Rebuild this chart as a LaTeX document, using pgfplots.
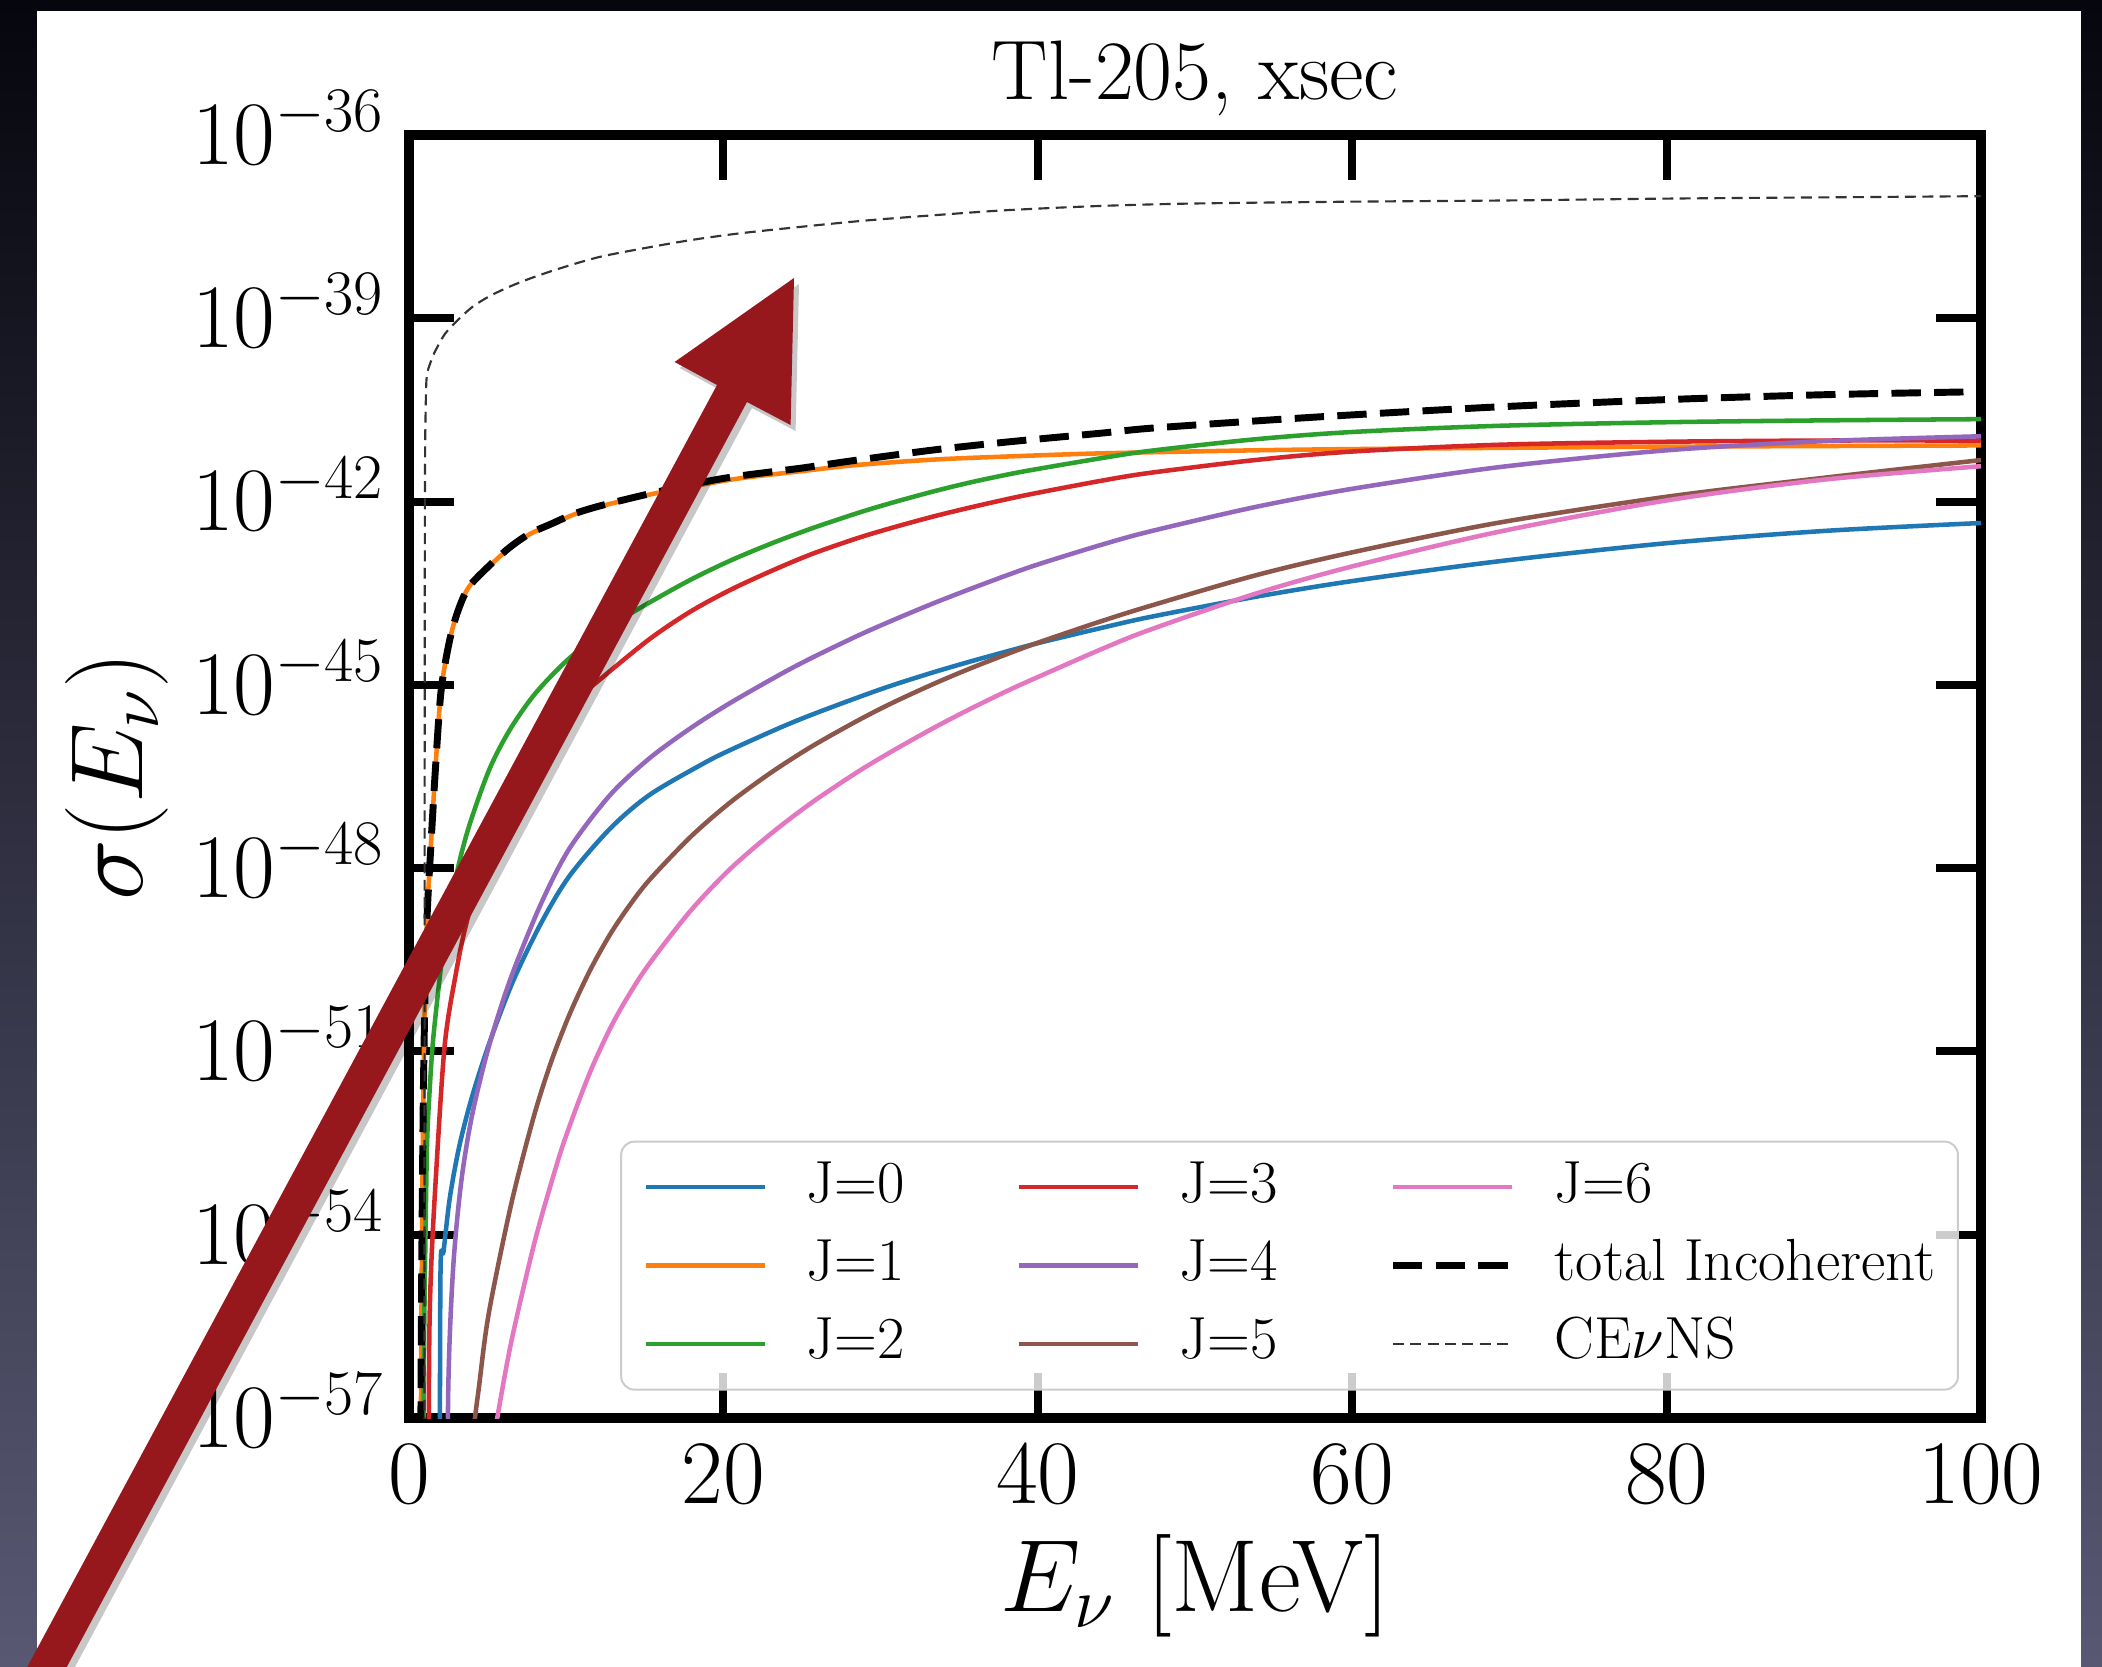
\RequirePackage{fix-cm}
\documentclass[border=0pt]{standalone}
\usepackage{pgfplots}
\pgfplotsset{compat=1.18}
\definecolor{c0}{HTML}{1F77B4}
\definecolor{c1}{HTML}{FF7F0E}
\definecolor{c2}{HTML}{2CA02C}
\definecolor{c3}{HTML}{D62728}
\definecolor{c4}{HTML}{9467BD}
\definecolor{c5}{HTML}{8C564B}
\definecolor{c6}{HTML}{E377C2}
\definecolor{arrowred}{RGB}{150,24,28}
\begin{document}
\begin{tikzpicture}
\path[use as bounding box, clip] (0pt,0pt) rectangle (788.25pt,-624.75pt);
\begin{scope}[x=0.375pt,y=-0.375pt]
\shade[top color={rgb,255:red,6;green,6;blue,14}, bottom color={rgb,255:red,88;green,88;blue,115}] (0,0) rectangle (2102,1666);
\fill[white] (37,11) rectangle (2081,1700);
\end{scope}
\begin{axis}[
  at={(153.375pt,-531.75pt)}, anchor=south west,
  scale only axis, width=589.5pt, height=481.125pt,
  ymode=log, log basis y=10,
  xmin=0, xmax=100, ymin=1e-57, ymax=1e-36,
  xtick={0,20,40,60,80,100},
  ytick={1e-57,1e-54,1e-51,1e-48,1e-45,1e-42,1e-39,1e-36},
  minor tick num=0, yminorticks=false, xminorticks=false,
  tick align=inside,
  major tick length=17pt,
  tick style={line width=3pt, black},
  axis line style={line width=3.5pt},
  tick label style={font=\fontsize{34}{40}\selectfont},
  yticklabel style={anchor=base east, inner xsep=9pt, yshift=-11pt},
  xticklabel style={inner ysep=9.75pt},
  title={Tl-205, xsec},
  title style={font=\fontsize{31.7}{37}\selectfont, at={(axis description cs:0.5,1.015)}, anchor=base},
  xlabel={$E_\nu$ [MeV]},
  xlabel style={font=\fontsize{38.5}{44}\selectfont, at={(axis description cs:0.5,-0.131)}, anchor=center},
  ylabel={$\sigma(E_\nu)$},
  ylabel style={font=\fontsize{38.5}{44}\selectfont, at={(axis description cs:-0.1857,0.5)}, anchor=center},
  legend columns=3, transpose legend, legend cell align=left,
  legend image code/.code={\draw[#1] (0pt,0pt) -- (44.6pt,0pt);},
  legend style={at={(0.986,0.0214)}, anchor=south east,
    font=\fontsize{22.3}{27}\selectfont, draw=black!20, line width=0.75pt,
    rounded corners=5pt, fill=white, fill opacity=0.8, text opacity=1,
    inner xsep=8.5pt, inner ysep=5.95pt, row sep=7.1pt,
    nodes={inner sep=0pt, text height=16.7pt, text depth=5.6pt},
    /tikz/column 1/.style={column sep=14.75pt},
    /tikz/column 2/.style={column sep=42pt},
    /tikz/column 3/.style={column sep=14.75pt},
    /tikz/column 4/.style={column sep=42pt},
    /tikz/column 5/.style={column sep=14.75pt}},
  every axis plot/.append style={smooth, line join=round},
]
% J=0
\addplot[c0, line width=1.7pt] coordinates {
(1.95,1e-60) (2.0,1.995e-55) (2.2,5.370e-55) (2.6,4.074e-54) (3.2,2.818e-53)
(4.0,1.778e-52) (5.1,1.349e-51) (6.6,1.380e-50) (8.4,1.259e-49) (10.2,7.413e-49)
(12.8,4.467e-48) (15.3,1.585e-47) (18.7,5.129e-47) (20.4,8.511e-47) (23.6,1.995e-46)
(25.6,3.236e-46) (28.5,6.166e-46) (30.7,9.772e-46) (33.4,1.622e-45) (35.8,2.455e-45)
(38.2,3.631e-45) (40.1,4.898e-45) (44,8.511e-45) (47.1,1.288e-44) (53.8,2.754e-44)
(60,5.012e-44) (69.2,1.047e-43) (80,2.089e-43) (90,3.311e-43) (100,4.467e-43)};
\addlegendentry{J=0}
% J=1
\addplot[c1, line width=1.7pt] coordinates {
(0.7,1e-60) (0.8,1e-55) (0.9,1e-52) (1.0,5.012e-51) (1.15,1.585e-49)
(1.4,2.512e-48) (1.7,5.012e-47) (2.04,7.943e-46) (2.56,5.012e-45) (3.1,1.585e-44)
(3.8,3.981e-44) (5.1,8.710e-44) (6.4,1.738e-43) (7.7,2.951e-43) (9,4.169e-43)
(10.5,6.166e-43) (12,8.128e-43) (14,1.096e-42) (16.5,1.514e-42) (18.7,1.905e-42)
(21,2.399e-42) (25,3.162e-42) (28.5,3.981e-42) (33.5,4.898e-42) (38.2,5.495e-42)
(44,6.166e-42) (53.8,6.918e-42) (60,7.244e-42) (69.2,7.586e-42) (80,7.943e-42)
(90,8.128e-42) (100,8.318e-42)};
\addlegendentry{J=1}
% J=2
\addplot[c2, line width=1.7pt] coordinates {
(0.85,1e-60) (0.95,1e-56) (1.05,1e-54) (1.15,3.162e-53) (1.3,2.042e-52)
(1.53,1.514e-51) (2.0,2.042e-50) (2.3,7.079e-50) (3.0,7.413e-49) (3.8,4.677e-48)
(5.1,4.074e-47) (6.4,1.820e-46) (8,7.079e-46) (10,2.455e-45) (12,6.457e-45)
(13.8,1.318e-44) (15.3,2.239e-44) (17.9,5.248e-44) (20.4,1.072e-43) (23,2.042e-43)
(25.6,3.631e-43) (28.5,6.457e-43) (30.7,9.550e-43) (33.4,1.479e-42) (35.8,2.089e-42)
(38.2,2.818e-42) (40.1,3.467e-42) (44,5.129e-42) (47.1,6.761e-42) (53.8,1.047e-41)
(60,1.380e-41) (69.2,1.738e-41) (80,1.995e-41) (90,2.138e-41) (100,2.239e-41)};
\addlegendentry{J=2}
% J=3
\addplot[c3, line width=1.7pt] coordinates {
(1.22,1e-60) (1.28,1e-56) (1.4,2.512e-55) (1.7,7.943e-54) (2.27,1.259e-51)
(3.0,1.995e-50) (3.7,1.413e-49) (5.0,1.778e-48) (6.5,1.413e-47) (8.5,1.122e-46)
(10.2,4.467e-46) (12.2,1.259e-45) (15.3,5.623e-45) (17.9,1.585e-44) (20.4,3.548e-44)
(23,7.244e-44) (25.6,1.380e-43) (28.5,2.512e-43) (30.7,3.715e-43) (33.4,5.754e-43)
(35.8,8.128e-43) (38.2,1.122e-42) (40.1,1.413e-42) (44,2.188e-42) (47.1,2.951e-42)
(53.8,4.786e-42) (60,6.607e-42) (69.2,8.511e-42) (80,9.550e-42) (90,1e-41) (100,1e-41)};
\addlegendentry{J=3}
% J=4
\addplot[c4, line width=1.7pt] coordinates {
(2.4,1e-60) (2.5,3.162e-57) (2.8,2.630e-55) (3.3,6.607e-54) (4.0,8.710e-53)
(5.1,1.259e-51) (6.5,1.660e-50) (8.4,2.630e-49) (10.2,2.089e-48) (12.8,1.585e-47)
(15.3,6.310e-47) (17.9,1.950e-46) (20.4,5.012e-46) (23.6,1.479e-45) (25.6,2.754e-45)
(28.5,6.310e-45) (30.7,1.122e-44) (33.4,2.188e-44) (35.8,3.802e-44) (38.2,6.457e-44)
(40.1,9.550e-44) (44,1.950e-43) (47.1,3.236e-43) (53.8,8.128e-43) (60,1.622e-42)
(69.2,3.631e-42) (80,6.918e-42) (90,9.772e-42) (100,1.175e-41)};
\addlegendentry{J=4}
% J=5
\addplot[c5, line width=1.7pt] coordinates {
(3.8,1e-60) (4.0,2.512e-58) (4.5,4.074e-57) (5.1,5.623e-56) (6.5,3.162e-54)
(7.9,7.943e-53) (9,6.310e-52) (10.2,3.981e-51) (11.5,2.089e-50) (12.8,8.318e-50)
(14,2.399e-49) (15.3,6.457e-49) (17.9,3.236e-48) (20.4,1.175e-47) (23,3.631e-47)
(25.6,9.772e-47) (28.5,2.570e-46) (30.7,5.012e-46) (33.4,1.047e-45) (35.8,1.905e-45)
(38.2,3.311e-45) (40.1,5.012e-45) (44,1.096e-44) (47.1,1.950e-44) (53.8,6.166e-44)
(60,1.479e-43) (69.2,4.467e-43) (80,1.202e-42) (90,2.455e-42) (100,4.786e-42)};
\addlegendentry{J=5}
% J=6
\addplot[c6, line width=1.7pt] coordinates {
(4.7,1e-60) (4.9,1e-58) (5.5,6.918e-58) (6.5,1.738e-56) (8,7.762e-55)
(9.4,1.413e-53) (10.2,5.888e-53) (11.5,4.467e-52) (12.8,2.399e-51) (14,8.511e-51)
(15.3,2.754e-50) (17.9,1.995e-49) (20.4,9.550e-49) (23,3.631e-48) (25.6,1.175e-47)
(28.5,3.715e-47) (30.7,8.128e-47) (33.4,1.995e-46) (35.8,4.169e-46) (38.2,8.318e-46)
(40.1,1.380e-45) (44,3.802e-45) (47.1,7.943e-45) (53.8,3.090e-44) (60,8.710e-44)
(69.2,3.162e-43) (80,1.047e-42) (90,2.291e-42) (100,3.802e-42)};
\addlegendentry{J=6}
% total incoherent
\addplot[black, line width=2.6pt, dash pattern=on 11pt off 5pt] coordinates {
(0.7,1e-60) (0.8,1e-55) (0.9,1e-52) (1.0,5.012e-51) (1.15,1.585e-49)
(1.4,2.512e-48) (1.7,5.012e-47) (2.04,7.943e-46) (2.56,5.012e-45) (3.1,1.585e-44)
(3.8,3.981e-44) (5.1,8.913e-44) (6.4,1.778e-43) (7.7,3.020e-43) (9,4.266e-43)
(10.5,6.310e-43) (12,8.318e-43) (14,1.122e-42) (16.5,1.585e-42) (18.7,2.089e-42)
(21,2.630e-42) (25,3.548e-42) (28.5,4.786e-42) (33.5,7.079e-42) (38.2,9.550e-42)
(44,1.318e-41) (47.1,1.585e-41) (53.8,2.089e-41) (60,2.630e-41) (69.2,3.548e-41)
(80,4.677e-41) (90,5.623e-41) (100,6.310e-41)};
\addlegendentry{total Incoherent}
% CEvNS
\addplot[black!80, line width=0.8pt, dash pattern=on 4.1pt off 2.4pt] coordinates {
(0.98,1e-60) (1.0,1e-45) (1.02,3.162e-42) (1.06,3.162e-41) (1.13,1.122e-40)
(1.4,1.995e-40) (1.7,3.020e-40) (2.3,5.623e-40) (3.1,9.333e-40) (4,1.514e-39)
(5.1,2.291e-39) (6.5,3.388e-39) (8,4.786e-39) (10,7.079e-39) (12.2,1.023e-38)
(15,1.413e-38) (17.9,1.905e-38) (21,2.455e-38) (25,3.162e-38) (29,3.981e-38)
(33.5,4.898e-38) (38,5.888e-38) (44,6.918e-38) (50,7.586e-38) (60,8.128e-38)
(70,8.511e-38) (80,9.120e-38) (90,9.550e-38) (100,1e-37)};
\addlegendentry{CE$\nu$NS}
\end{axis}
\begin{scope}[x=0.375pt,y=-0.375pt]
\fill[black, opacity=0.22, shift={(5,6)}] (9.5,1700) -- (717,385) -- (674.6,362) -- (794,278) -- (790.6,425) -- (747,402) -- (49,1700) -- cycle;
\fill[arrowred] (9.5,1700) -- (717,385) -- (674.6,362) -- (794,278) -- (790.6,425) -- (747,402) -- (49,1700) -- cycle;
\end{scope}
\end{tikzpicture}
\end{document}
